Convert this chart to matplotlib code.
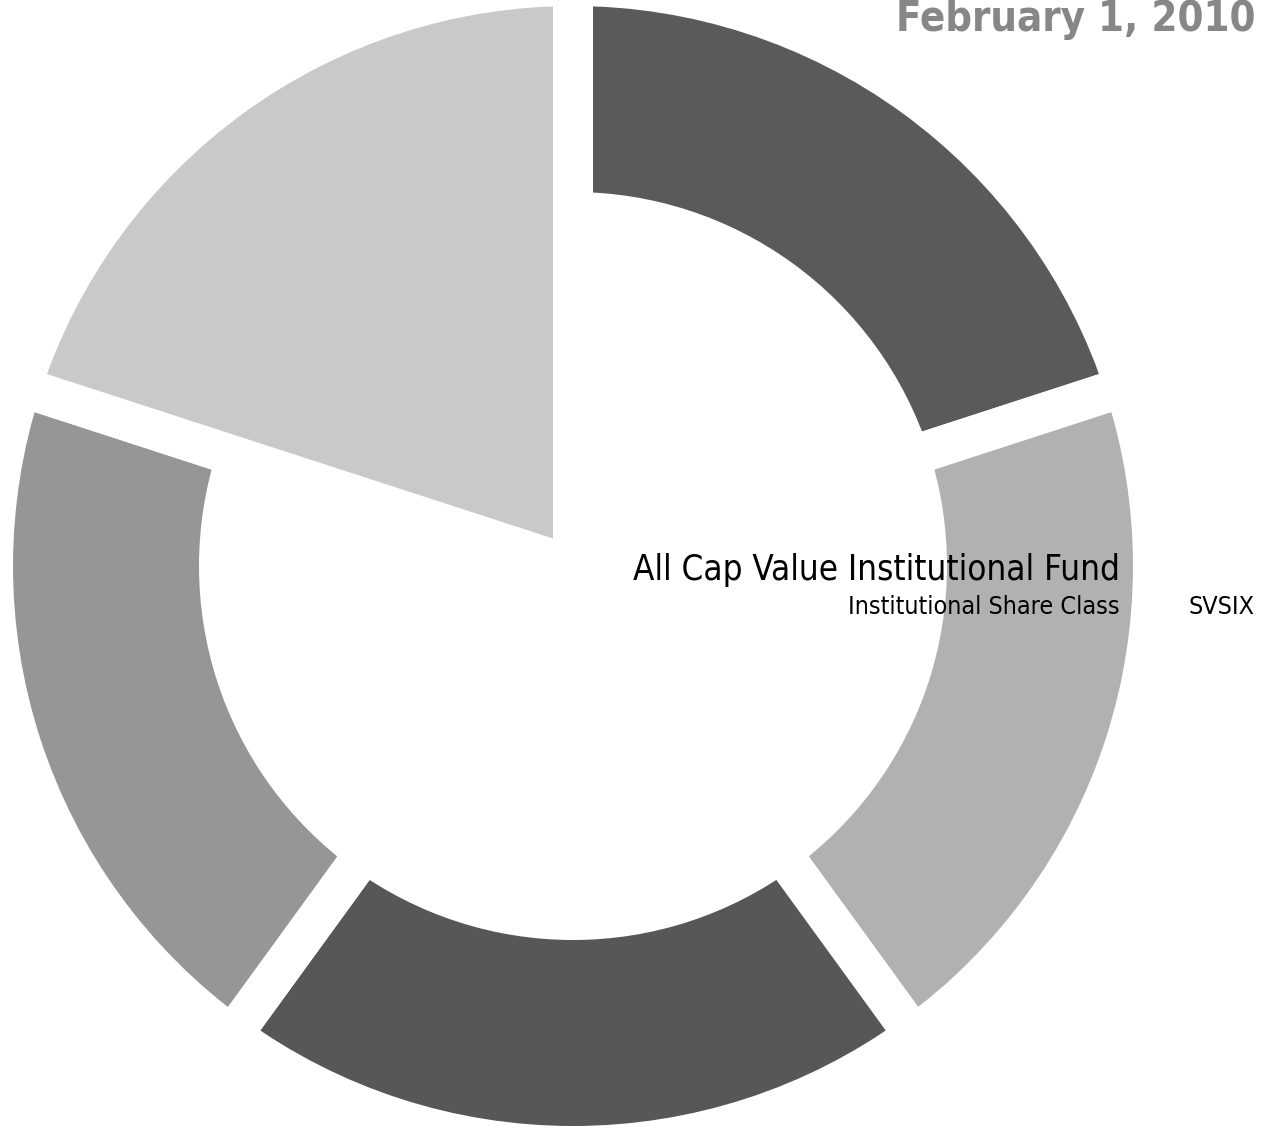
import matplotlib
matplotlib.use("Agg")
import matplotlib.pyplot as plt

# Data
segments = ["Segment 1", "Segment 2", "Segment 3", "Segment 4", "Segment 5"]
values = [1, 1, 1, 1, 1]
colors = ["#5a5a5a", "#b1b1b1", "#575757", "#969696", "#c9c9c9"]
date_text = "February 1, 2010"
fund_name = "All Cap Value Institutional Fund"
share_class = "Institutional Share Class"
ticker = "SVSIX"

W, H = 1273, 1130
fig = plt.figure(figsize=(W / 100, H / 100), dpi=100)
ax = fig.add_axes([0, 0, 1, 1])

gap_px = 40
lw_pt = gap_px * 72 / 100
R_out = 560 + gap_px / 2
R_in = 374 - gap_px / 2
cx, cy = 573, H - 566

wedges, _ = ax.pie(values, radius=R_out, center=(cx, cy), startangle=90,
                   counterclock=False, colors=colors,
                   wedgeprops=dict(width=R_out - R_in, edgecolor="white",
                                   linewidth=lw_pt, joinstyle="miter"),
                   frame=True)
wedges[4].set_width(None)
ax.set_xlim(0, W)
ax.set_ylim(0, H)
ax.set_aspect("equal")
ax.axis("off")

fam = ["DejaVu Sans"]
ax.text(1255, H - 31, date_text, ha="right", va="baseline", fontsize=30,
        fontweight="bold", fontstretch="condensed", color="#878787", family=fam)
ax.text(1120, H - 580, fund_name, ha="right", va="baseline", fontsize=25,
        fontstretch="condensed", color="black", family=fam)
ax.text(1120, H - 614, share_class, ha="right", va="baseline", fontsize=18,
        fontstretch="condensed", color="black", family=fam)
ax.text(1255, H - 614, ticker, ha="right", va="baseline", fontsize=18,
        fontstretch="condensed", color="black", family=fam)

fig.savefig("out.png", dpi=100)
